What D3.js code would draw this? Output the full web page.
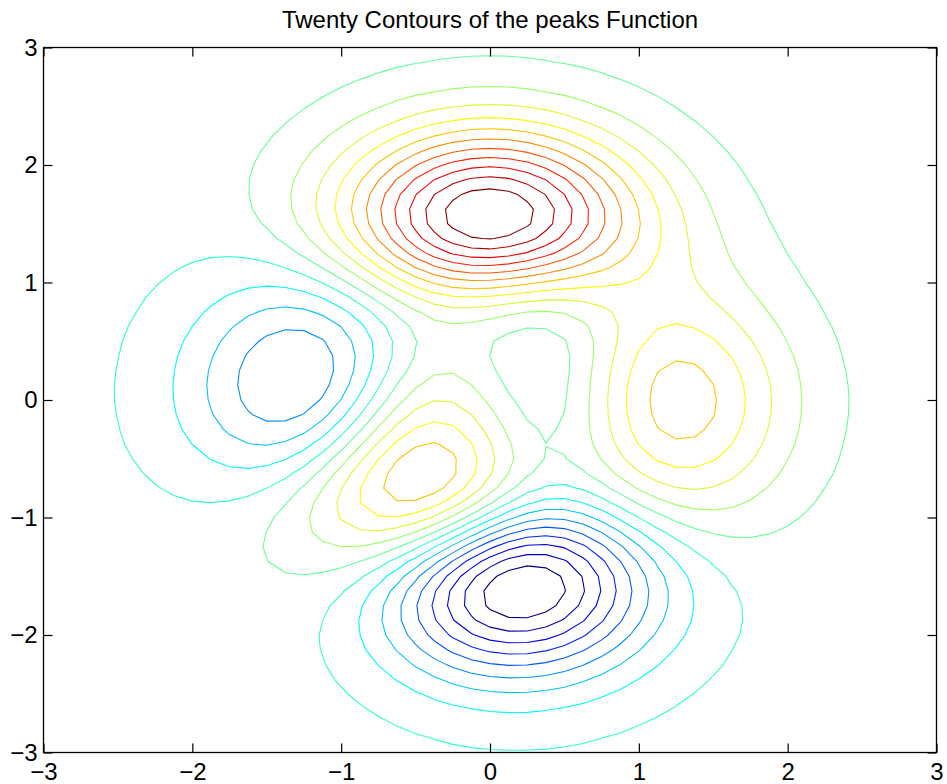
<!DOCTYPE html>
<html><head><meta charset="utf-8">
<script src="https://cdn.jsdelivr.net/npm/d3@7"></script>
<style>
body{margin:0;background:#fff}
text{font-family:"Liberation Sans",Arial,Helvetica,sans-serif}
</style>
</head><body>
<svg id="chart" width="947" height="784"></svg>
<script>
// ---- data ----
const titleText = "Twenty Contours of the peaks Function";
const xTicks = [-3, -2, -1, 0, 1, 2, 3];
const yTicks = [-3, -2, -1, 0, 1, 2, 3];
const xTickLabels = ["\u22123", "\u22122", "\u22121", "0", "1", "2", "3"];
const yTickLabels = ["\u22123", "\u22122", "\u22121", "0", "1", "2", "3"];
const xDomain = [-3, 3];
const yDomain = [-3, 3];
const gridSize = 49;        // MATLAB peaks default grid
const levelCount = 20;      // twenty contour levels

// peaks surface sampled on the grid (the function named in the title)
function peaks(x, y) {
  return 3 * (1 - x) ** 2 * Math.exp(-(x ** 2) - (y + 1) ** 2)
    - 10 * (x / 5 - x ** 3 - y ** 5) * Math.exp(-(x ** 2) - y ** 2)
    - 1 / 3 * Math.exp(-((x + 1) ** 2) - y ** 2);
}
const gridX = d3.range(gridSize).map(i => xDomain[0] + (xDomain[1] - xDomain[0]) * i / (gridSize - 1));
const gridY = d3.range(gridSize).map(j => yDomain[0] + (yDomain[1] - yDomain[0]) * j / (gridSize - 1));
const zValues = [];
for (let j = 0; j < gridSize; j++) for (let i = 0; i < gridSize; i++) zValues.push(peaks(gridX[i], gridY[j]));

const [zMin, zMax] = d3.extent(zValues);
const levels = d3.range(1, levelCount + 1).map(k => zMin + k * (zMax - zMin) / (levelCount + 1));

// ---- layout ----
const svg = d3.select("#chart");
const L = 43.5, R = 936.5, T = 47.5, B = 752.5;
const x = d3.scaleLinear().domain(xDomain).range([L, R]);
const y = d3.scaleLinear().domain(yDomain).range([B, T]);

function jet(t) {
  const c = v => Math.max(0, Math.min(1, v));
  const r = c(1.5 - Math.abs(4 * t - 3));
  const g = c(1.5 - Math.abs(4 * t - 2));
  const b = c(1.5 - Math.abs(4 * t - 1));
  return d3.rgb(r * 255, g * 255, b * 255).formatHex();
}
const colorT = d3.scaleLinear().domain([levels[0], levels[levels.length - 1]]).range([0, 1]);

svg.append("defs").append("clipPath").attr("id", "clip")
  .append("rect").attr("x", L).attr("y", T).attr("width", R - L).attr("height", B - T);

// grid coordinate c (value i sits at i+0.5) -> data value
const cellX = (xDomain[1] - xDomain[0]) / (gridSize - 1);
const cellY = (yDomain[1] - yDomain[0]) / (gridSize - 1);
const proj = d3.geoTransform({
  point: function (cx, cy) {
    this.stream.point(x(xDomain[0] + (cx - 0.5) * cellX), y(yDomain[0] + (cy - 0.5) * cellY));
  }
});
const path = d3.geoPath(proj);

const contours = d3.contours().size([gridSize, gridSize]).thresholds(levels)(zValues);

svg.append("g").attr("clip-path", "url(#clip)")
  .selectAll("path").data(contours).join("path")
  .attr("d", path)
  .attr("fill", "none")
  .attr("stroke", d => jet(colorT(d.value)))
  .attr("stroke-width", 1.1);

// ---- axes ----
const fontSize = 24;
const ax = svg.append("g").attr("transform", `translate(0,${B})`)
  .call(d3.axisBottom(x).tickValues(xTicks).tickFormat((d, i) => xTickLabels[i])
    .tickSizeInner(-9).tickSizeOuter(0).tickPadding(10));
const ay = svg.append("g").attr("transform", `translate(${L},0)`)
  .call(d3.axisLeft(y).tickValues(yTicks).tickFormat((d, i) => yTickLabels[i])
    .tickSizeInner(-9).tickSizeOuter(0).tickPadding(6));
const at = svg.append("g").attr("transform", `translate(0,${T})`)
  .call(d3.axisTop(x).tickValues(xTicks).tickFormat("").tickSizeInner(-9).tickSizeOuter(0));
const ar = svg.append("g").attr("transform", `translate(${R},0)`)
  .call(d3.axisRight(y).tickValues(yTicks).tickFormat("").tickSizeInner(-9).tickSizeOuter(0));
[ax, ay, at, ar].forEach(g => {
  g.select(".domain").remove();
  g.selectAll("line").attr("stroke", "#000").attr("stroke-width", 1.2);
  g.selectAll("text").attr("fill", "#000").style("font-size", fontSize + "px")
    .style("font-family", '"Liberation Sans",Arial,sans-serif');
});

svg.append("rect").attr("x", L).attr("y", T).attr("width", R - L).attr("height", B - T)
  .attr("fill", "none").attr("stroke", "#000").attr("stroke-width", 1.3);

svg.append("text").attr("x", (L + R) / 2).attr("y", 28).attr("text-anchor", "middle")
  .style("font-size", "24px").attr("fill", "#000").text(titleText);
</script>
</body></html>
